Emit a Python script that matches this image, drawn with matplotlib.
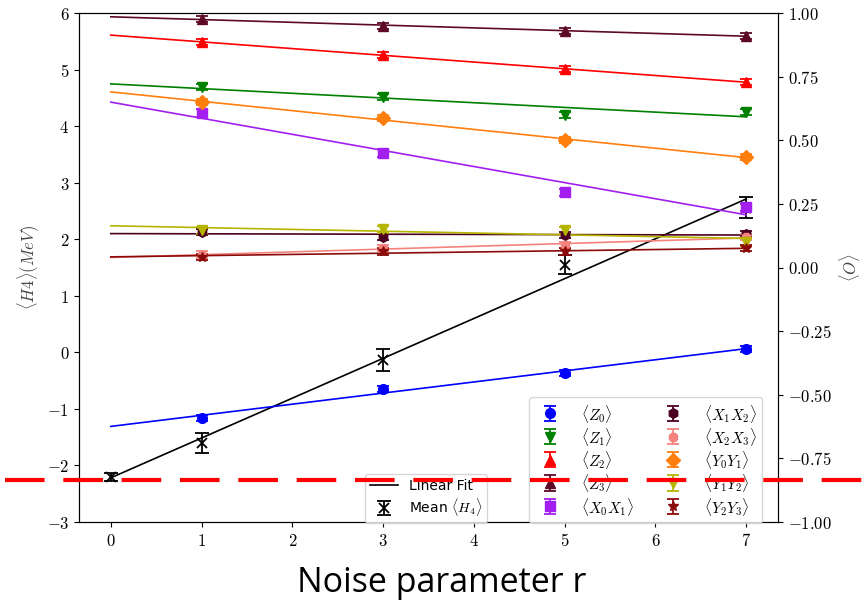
import numpy as np
import matplotlib
matplotlib.use('Agg')
import matplotlib.pyplot as plt
from matplotlib.ticker import FuncFormatter, MultipleLocator
from matplotlib.lines import Line2D

plt.rcParams['mathtext.fontset'] = 'cm'

# Mean <H4> (left axis)
r_h4 = [0, 1, 3, 5, 7]
h4_mean = [-2.2, -1.6, -0.135, 1.55, 2.56]
h4_err = [0.07, 0.18, 0.19, 0.17, 0.19]

# observables (right axis), measured at r = 1, 3, 5, 7
r_obs = [1, 3, 5, 7]
obs_labels = [r'$\langle Z_0\rangle$', r'$\langle Z_1\rangle$', r'$\langle Z_2\rangle$',
              r'$\langle Z_3\rangle$', r'$\langle X_0X_1\rangle$',
              r'$\langle X_1X_2\rangle$', r'$\langle X_2X_3\rangle$',
              r'$\langle Y_0Y_1\rangle$', r'$\langle Y_1Y_2\rangle$',
              r'$\langle Y_2Y_3\rangle$']
z0 = [-0.59, -0.476, -0.413, -0.32]
z1 = [0.71, 0.67, 0.60, 0.61]
z2 = [0.886, 0.835, 0.78, 0.728]
z3 = [0.976, 0.95, 0.93, 0.91]
x0x1 = [0.606, 0.45, 0.295, 0.236]
x1x2 = [0.14, 0.12, 0.128, 0.132]
x2x3 = [0.051, 0.075, 0.087, 0.12]
y0y1 = [0.65, 0.587, 0.50, 0.433]
y1y2 = [0.146, 0.15, 0.146, 0.10]
y2y3 = [0.043, 0.063, 0.063, 0.075]
obs_err = [0.012, 0.012, 0.012, 0.012, 0.015, 0.012, 0.012, 0.012, 0.015, 0.012]

obs_values = [z0, z1, z2, z3, x0x1, x1x2, x2x3, y0y1, y1y2, y2y3]
obs_colors = ['blue', 'green', 'red', '#5c0a25', '#a31ff0',
              '#4b0021', '#f4837d', '#ff7f0e', '#b5b500', '#8b0a0a']
obs_markers = ['o', 'v', '^', '^', 's', 'h', '8', 'D', 'v', '*']

fig = plt.figure(figsize=(8.66, 6.06), dpi=100)
ax = fig.add_axes([79/866, 1 - 522/606, (778 - 79)/866, (522 - 13)/606])
ax2 = ax.twinx()

xfit = np.linspace(0, 7, 50)

# H4 + linear fit
k, b = np.polyfit(r_h4, h4_mean, 1)
fit_line, = ax.plot(xfit, k*xfit + b, color='black', lw=1.2)
h4_pts = ax.errorbar(r_h4, h4_mean, yerr=h4_err, fmt='x', color='black',
                     capsize=5, ms=7, mew=1.3, elinewidth=1.3)

handles = []
for vals, err, col, mk in zip(obs_values, obs_err, obs_colors, obs_markers):
    k, b = np.polyfit(r_obs, vals, 1)
    ax2.plot(xfit, k*xfit + b, color=col, lw=1.2)
    h = ax2.errorbar(r_obs, vals, yerr=err, fmt=mk, color=col, capsize=4,
                     ms=7, elinewidth=1.3, capthick=1.3)
    handles.append(h)

ax.set_xlim(-0.35, 7.35)
ax.set_ylim(-3, 6)
ax2.set_ylim(-1, 1)
ax.xaxis.set_major_locator(MultipleLocator(1))
ax2.yaxis.set_major_locator(MultipleLocator(0.25))
ax.xaxis.set_major_formatter(FuncFormatter(lambda v, p: f'${v:g}$'))
ax.yaxis.set_major_formatter(FuncFormatter(lambda v, p: f'${v:g}$'))
ax2.yaxis.set_major_formatter(FuncFormatter(lambda v, p: f'${v:.2f}$'))
ax.tick_params(labelsize=12)
ax2.tick_params(labelsize=12)
ax.set_ylabel(r'$\langle H4\rangle (MeV)$', fontsize=12, color='#444444')
ax2.set_ylabel(r'$\langle O\rangle$', fontsize=12, color='#444444')

leg1 = ax2.legend(handles, obs_labels, ncol=2, fontsize=11, loc='lower right',
                  bbox_to_anchor=(762/866, 1 - 523/606), bbox_transform=fig.transFigure,
                  borderaxespad=0, columnspacing=1.6, handletextpad=1.0,
                  labelspacing=0.08, borderpad=0.35, handleheight=1.2)
ax2.add_artist(leg1)
ax2.legend([fit_line, h4_pts], ['Linear Fit', r'Mean $\langle H_4\rangle$'], fontsize=10,
           loc='lower right', bbox_to_anchor=(487/866, 1 - 523/606),
           bbox_transform=fig.transFigure, borderaxespad=0, labelspacing=0.25,
           borderpad=0.35)

# red dashed marker line and caption
fig.add_artist(Line2D([5/866, 1], [1 - 480/606] * 2, transform=fig.transFigure,
                      color='red', lw=3, linestyle=(0, (9.5, 4.5))))
fig.text(0.51, 1 - 583/606, 'Noise parameter r', fontsize=24.5, family='Open Sans',
         ha='center', va='center')

fig.savefig('out.png', dpi=100)
